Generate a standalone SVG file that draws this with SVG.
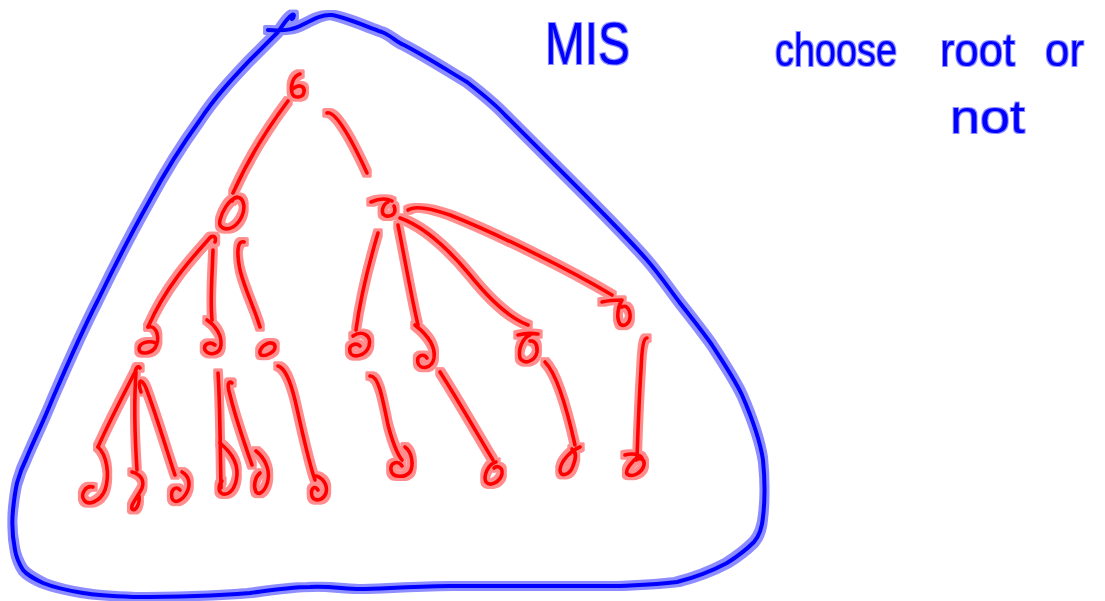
<svg xmlns="http://www.w3.org/2000/svg" width="1105" height="601" viewBox="0 0 1105 601">
<style>
.red{fill:none;stroke:#ff0000;stroke-width:3.6;stroke-linecap:round;stroke-linejoin:round}
.blue{fill:none;stroke:#0000ff;stroke-width:4;stroke-linecap:round;stroke-linejoin:round}
.txt{fill:#0000ff;font-family:"Liberation Sans",Arial,sans-serif;font-size:46px}
</style>
<defs>
<filter id="halo" filterUnits="userSpaceOnUse" x="0" y="0" width="1105" height="601">
<feMorphology in="SourceGraphic" operator="dilate" radius="2.6" result="d"/>
<feComponentTransfer in="d" result="h"><feFuncA type="linear" slope="0.45"/></feComponentTransfer>
<feMerge><feMergeNode in="h"/><feMergeNode in="SourceGraphic"/></feMerge>
</filter>
<filter id="halo-t" filterUnits="userSpaceOnUse" x="0" y="0" width="1105" height="601">
<feMorphology in="SourceGraphic" operator="dilate" radius="1.4" result="d"/>
<feComponentTransfer in="d" result="h"><feFuncA type="linear" slope="0.45"/></feComponentTransfer>
<feMerge><feMergeNode in="h"/><feMergeNode in="SourceGraphic"/></feMerge>
</filter>
</defs>
<rect width="1105" height="601" fill="#ffffff"/>

<g id="outline" filter="url(#halo)">
<path class="blue" d="M268,30 C280,31 290,31 300,26 C312,20 322,14 332,15 C345,17 365,26 382,32 C392,36 396,42 404,45 C425,56 447,70 467,82 C485,96 495,104 505,115 C530,140 550,160 570,180 C600,210 625,235 647,260 C660,275 670,290 680,303 C695,322 705,335 712,345 C725,365 735,380 742,395 C752,418 760,440 763,460 C765,480 765,500 763,517 C762,528 760,535 754,542 C745,551 735,558 727,563 C710,572 697,577 677,582 C655,585 640,585 617,586 C560,586 500,586 450,586 C400,587 380,589 360,589 C345,589 330,586 310,587 C295,587 285,588 250,593 C200,597 160,597 133,597 C110,596 95,595 83,593 C65,590 53,587 43,583 C33,578 27,575 23,570 C18,562 16,556 15,550 C12,535 12,520 13,510 C14,500 15,492 17,483 C20,472 23,465 27,457 C35,438 44,420 52,400 C65,370 80,335 98,300 C115,265 132,232 150,200 C165,172 182,145 200,120 C215,97 233,78 250,60 C262,48 270,40 278,32 C283,25 287,18 292,15 C295,13 294,18 292,19"/>
</g>

<g id="labels" filter="url(#halo-t)">
<text class="txt" x="545" y="64" textLength="85" lengthAdjust="spacingAndGlyphs" style="font-size:60px">MIS</text>
<text class="txt" x="775" y="66" textLength="122" lengthAdjust="spacingAndGlyphs">choose</text>
<text class="txt" x="940" y="66" textLength="75" lengthAdjust="spacingAndGlyphs">root</text>
<text class="txt" x="1045" y="66" textLength="39" lengthAdjust="spacingAndGlyphs">or</text>
<text class="txt" x="950" y="133" textLength="75" lengthAdjust="spacingAndGlyphs">not</text>
</g>

<g id="tree" filter="url(#halo)">
<g id="connectors">
<path class="red" d="M288,101 C270,125 250,155 233,193"/>
<path class="red" d="M327,113 C333,111 345,125 367,173"/>
<path class="red" d="M215,242 C217,236 212,234 208,240 C190,260 165,288 148,327"/>
<path class="red" d="M213,250 C212,280 210,300 212,320"/>
<path class="red" d="M244,242 C238,240 236,250 240,270 C245,290 255,310 260,327"/>
<path class="red" d="M378,233 C370,260 360,300 356,330"/>
<path class="red" d="M398,225 C405,260 412,300 418,325"/>
<path class="red" d="M400,218 C420,225 445,245 470,275 C490,300 510,318 528,325"/>
<path class="red" d="M408,210 C415,205 430,208 450,215 C500,235 570,270 612,295"/>
<path class="red" d="M370,376 C378,375 382,395 388,425 C392,440 398,455 402,460"/>
<path class="red" d="M440,372 C455,395 475,430 493,460"/>
<path class="red" d="M545,362 C555,372 565,400 575,445"/>
<path class="red" d="M647,338 C644,338 642,345 641,370 C639,400 638,430 637,458"/>
<path class="red" d="M140,368 C138,365 136,368 135,372 C125,392 110,420 98,447"/>
<path class="red" d="M136,372 C134,400 135,440 137,470"/>
<path class="red" d="M141,392 C137,380 141,377 146,388 C158,420 168,455 175,475"/>
<path class="red" d="M218,373 C220,400 220,440 221,488"/>
<path class="red" d="M232,383 C228,380 227,385 230,395 C236,420 245,445 252,465"/>
<path class="red" d="M278,366 C285,368 290,380 295,400 C302,430 308,460 315,480"/>
</g>
<g id="n-root"><path class="red" d="M300,74 C293,76 290,86 292,93 C294,99 303,98 304,92 C305,86 299,84 294,88"/></g>
<g id="n-left"><path class="red" d="M237,197 C228,200 222,212 220,220 C218,228 226,231 233,227 C241,222 246,210 243,202 C241,196 234,196 232,201"/></g>
<g id="n-right"><path class="red" d="M371,202 C378,199 386,198 392,201 M388,202 C382,205 380,214 386,216 C392,217 397,213 394,206"/></g>
<g id="n-a"><path class="red" d="M148,327 C158,325 160,340 155,348 C150,354 140,355 139,349 C139,343 148,340 156,343"/></g>
<g id="n-b"><path class="red" d="M207,320 C215,325 222,335 221,345 C220,355 208,356 205,350 C203,344 210,341 215,345"/></g>
<g id="n-c"><path class="red" d="M270,343 C262,344 258,352 261,355 C265,357 276,352 275,346 C274,342 268,342 265,345"/></g>
<g id="n-d"><path class="red" d="M353,336 C362,330 372,335 369,346 C366,356 352,359 350,352 C348,345 356,342 360,346"/></g>
<g id="n-e"><path class="red" d="M415,325 C425,333 436,345 434,358 C432,369 420,370 418,363 C416,355 424,353 427,358"/></g>
<g id="n-f"><path class="red" d="M518,335 C525,333 532,333 538,334 M530,335 C522,338 518,350 520,358 C523,365 535,362 537,352 C538,344 534,340 530,341"/></g>
<g id="n-g"><path class="red" d="M602,302 C610,300 618,300 622,300 C618,306 616,318 620,324 C625,328 631,322 630,314 C629,307 625,305 622,307"/></g>
<g id="n-h"><path class="red" d="M405,447 C412,452 414,465 410,472 C405,478 392,478 391,470 C390,462 399,460 402,466"/></g>
<g id="n-i"><path class="red" d="M496,462 C488,464 483,476 486,482 C490,487 500,482 502,474 C503,467 497,465 494,468"/></g>
<g id="n-j"><path class="red" d="M580,447 C572,450 561,460 560,470 C560,478 570,475 573,466 C576,458 577,452 572,449"/></g>
<g id="n-k"><path class="red" d="M625,455 C632,453 640,454 642,458 M638,457 C632,461 625,470 627,474 C632,478 642,473 644,465 C645,459 640,457 636,460"/></g>
<g id="n-l"><path class="red" d="M98,447 C107,455 110,475 105,490 C100,502 88,506 84,500 C80,494 86,485 93,487"/></g>
<g id="n-m"><path class="red" d="M132,472 C140,474 145,480 142,488 C139,495 130,505 132,509 C135,512 140,505 139,496"/></g>
<g id="n-n"><path class="red" d="M182,472 C189,476 191,484 187,492 C183,500 174,505 172,498 C170,490 176,485 180,490"/></g>
<g id="n-o"><path class="red" d="M220,443 C228,450 238,460 237,475 C236,488 230,495 223,494 C217,492 219,484 222,481"/></g>
<g id="n-p"><path class="red" d="M256,451 C265,458 270,470 268,480 C266,490 260,496 256,492 C253,486 255,477 260,473"/></g>
<g id="n-q"><path class="red" d="M316,476 C323,478 328,485 326,493 C323,501 314,502 312,496 C310,488 315,485 318,490"/></g>
</g>
</svg>
